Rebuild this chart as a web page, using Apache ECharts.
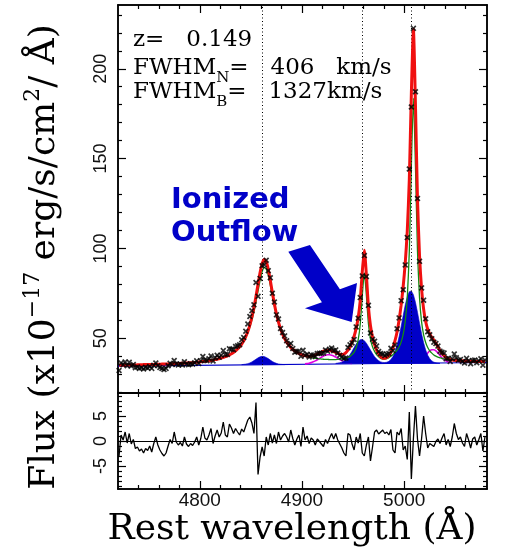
<!DOCTYPE html>
<html>
<head>
<meta charset="utf-8">
<script src="https://cdn.jsdelivr.net/npm/echarts@6/dist/echarts.min.js"></script>
<style>
html,body{margin:0;padding:0;background:#fff;}
#chart{width:505px;height:551px;}
</style>
</head>
<body>
<div id="chart"></div>
<script>
// Rest-frame wavelength sampling of the spectrum (Å)
const waveStart = 4721;
const waveStep = 2;

// Observed flux (x10^-17 erg/s/cm2/Å), one value per sample
const fluxObs = [
  32.0, 36.2, 35.2, 36.8, 34.7, 36.6, 34.5, 35.4, 33.6, 34.0,
  33.2, 33.6, 32.9, 33.8, 33.4, 34.3, 33.2, 34.9, 36.2, 34.7,
  33.7, 33.1, 32.6, 33.2, 34.7, 36.0, 35.3, 37.6, 35.7, 35.1,
  35.7, 35.1, 36.9, 35.6, 35.2, 35.8, 35.5, 36.3, 37.4, 35.9,
  37.4, 39.8, 37.7, 37.5, 38.6, 40.1, 37.3, 39.1, 40.5, 39.4,
  40.5, 43.1, 40.9, 41.0, 44.1, 43.9, 43.6, 45.4, 45.8, 46.4,
  49.1, 50.4, 53.9, 57.9, 62.1, 65.3, 68.6, 81.0, 73.3, 83.3,
  90.3, 90.8, 93.4, 87.6, 83.7, 75.0, 70.2, 63.0, 60.7, 55.4,
  53.2, 51.3, 48.6, 46.1, 47.1, 44.3, 42.2, 42.6, 42.7, 39.9,
  43.3, 40.5, 41.1, 39.5, 40.7, 40.5, 39.8, 41.5, 41.6, 41.6,
  41.7, 43.4, 42.8, 43.9, 44.5, 43.0, 43.5, 41.8, 40.5, 39.6,
  38.8, 39.0, 44.8, 46.4, 47.3, 49.3, 56.3, 61.1, 72.6, 84.7,
  96.0, 84.3, 68.3, 52.9, 49.4, 48.3, 45.6, 42.6, 41.5, 41.2,
  40.4, 41.1, 41.5, 44.4, 43.0, 46.2, 55.3, 61.3, 70.9, 77.0,
  90.8, 106.0, 144.2, 178.7, 222.5, 187.2, 127.8, 92.8, 78.0, 71.2,
  60.8, 53.6, 51.9, 49.7, 47.8, 47.0, 45.6, 42.8, 42.2, 41.8,
  38.5, 38.9, 37.1, 38.6, 41.2, 39.1, 37.8, 38.2, 37.0, 36.2,
  38.8, 37.4, 35.8, 37.6, 37.9, 36.3, 37.4, 38.6, 35.0, 37.8
];

// Total model (red)
const fitTotal = [
  35.0, 35.0, 35.0, 35.0, 35.1, 35.1, 35.1, 35.1, 35.1, 35.2,
  35.2, 35.2, 35.3, 35.3, 35.3, 35.3, 35.4, 35.4, 35.4, 35.5,
  35.5, 35.6, 35.6, 35.6, 35.7, 35.7, 35.8, 35.8, 35.9, 35.9,
  36.0, 36.1, 36.1, 36.2, 36.3, 36.3, 36.4, 36.5, 36.6, 36.7,
  36.9, 37.0, 37.1, 37.3, 37.4, 37.6, 37.8, 38.1, 38.3, 38.6,
  38.9, 39.3, 39.7, 40.2, 40.7, 41.3, 42.1, 42.9, 44.0, 45.2,
  46.7, 48.6, 50.9, 53.7, 57.3, 61.7, 67.1, 73.3, 80.0, 86.5,
  91.5, 93.8, 92.6, 88.4, 82.2, 75.4, 69.0, 63.5, 58.9, 55.2,
  52.2, 49.8, 47.8, 46.3, 44.9, 43.8, 43.0, 42.2, 41.5, 41.0,
  40.5, 40.3, 40.1, 40.0, 40.1, 40.3, 40.6, 41.1, 41.7, 42.2,
  42.8, 43.1, 43.3, 43.3, 43.0, 42.6, 42.0, 41.6, 41.1, 41.0,
  41.2, 42.0, 43.3, 45.2, 47.9, 51.1, 55.5, 61.5, 71.1, 87.1,
  99.0, 85.1, 67.5, 56.9, 50.6, 46.5, 43.4, 41.2, 39.7, 39.0,
  38.9, 39.3, 40.3, 42.1, 44.8, 48.6, 53.5, 60.1, 68.4, 78.8,
  91.8, 109.7, 138.4, 186.3, 222.0, 180.2, 127.4, 95.8, 77.5, 66.2,
  59.3, 55.0, 52.4, 50.5, 48.9, 47.1, 45.2, 43.3, 41.6, 40.3,
  39.3, 38.6, 38.2, 37.8, 37.7, 37.6, 37.5, 37.4, 37.4, 37.3,
  37.3, 37.2, 37.2, 37.2, 37.1, 37.1, 37.1, 37.1, 37.0, 37.0
];

// Continuum + narrow/Hβ components (green)
const fitNarrow = [
  35.0, 35.0, 35.0, 35.0, 35.1, 35.1, 35.1, 35.1, 35.1, 35.2,
  35.2, 35.2, 35.3, 35.3, 35.3, 35.3, 35.4, 35.4, 35.4, 35.5,
  35.5, 35.6, 35.6, 35.6, 35.7, 35.7, 35.8, 35.8, 35.9, 35.9,
  36.0, 36.1, 36.1, 36.2, 36.3, 36.3, 36.4, 36.5, 36.6, 36.7,
  36.9, 37.0, 37.1, 37.3, 37.4, 37.6, 37.8, 38.1, 38.3, 38.6,
  38.9, 39.3, 39.7, 40.2, 40.7, 41.3, 42.1, 42.9, 44.0, 45.2,
  46.7, 48.5, 50.6, 53.3, 56.3, 60.2, 64.8, 70.3, 76.2, 82.2,
  87.0, 89.3, 88.6, 85.1, 79.6, 73.6, 67.9, 62.8, 58.6, 55.0,
  52.1, 49.8, 47.8, 46.3, 44.9, 43.8, 43.0, 42.2, 41.5, 41.0,
  40.5, 40.1, 39.8, 39.5, 39.2, 39.0, 38.8, 38.6, 38.5, 38.4,
  38.3, 38.2, 38.2, 38.1, 38.1, 38.1, 38.1, 38.2, 38.3, 38.5,
  38.7, 38.9, 39.3, 39.9, 40.9, 42.3, 44.7, 49.2, 57.8, 73.7,
  86.4, 73.8, 58.1, 49.5, 45.2, 42.7, 40.9, 39.7, 38.8, 38.4,
  38.4, 38.6, 39.1, 39.9, 40.9, 42.1, 43.4, 45.1, 47.8, 52.1,
  59.3, 72.5, 98.4, 145.9, 183.7, 145.9, 98.3, 72.4, 59.1, 51.9,
  47.6, 44.8, 43.0, 41.7, 40.7, 40.0, 39.5, 39.1, 38.7, 38.5,
  38.3, 38.1, 37.9, 37.8, 37.7, 37.6, 37.5, 37.4, 37.4, 37.3,
  37.3, 37.2, 37.2, 37.2, 37.1, 37.1, 37.1, 37.1, 37.0, 37.0
];

// Data minus model (lower panel)
const residual = [
  -3.0, 1.2, 0.2, 1.8, -0.4, 1.5, -0.6, 0.3, -1.5, -1.2,
  -2.0, -1.6, -2.4, -1.5, -1.9, -1.0, -2.2, -0.5, 0.8, -0.8,
  -1.8, -2.5, -3.0, -2.4, -1.0, 0.3, -0.5, 1.8, -0.2, -0.8,
  -0.3, -1.0, 0.8, -0.6, -1.1, -0.5, -0.9, -0.2, 0.8, -0.8,
  0.5, 2.8, 0.6, 0.2, 1.2, 2.5, -0.5, 1.0, 2.2, 0.8,
  1.6, 3.8, 1.2, 0.8, 3.4, 2.6, 1.5, 2.5, 1.8, 1.2,
  2.4, 1.8, 3.0, 4.2, 4.8, 3.6, 1.5, 7.7, -6.7, -3.2,
  -1.2, -3.0, 0.8, -0.8, 1.5, -0.4, 1.2, -0.5, 1.8, 0.2,
  1.0, 1.5, 0.8, -0.2, 2.2, 0.5, -0.8, 0.4, 1.2, -1.1,
  2.8, 0.2, 1.0, -0.5, 0.6, 0.2, -0.8, 0.4, -0.1, -0.6,
  -1.1, 0.3, -0.5, 0.6, 1.5, 0.4, 1.5, 0.2, -0.6, -1.4,
  -2.4, -3.0, 1.5, 1.2, -0.6, -1.8, 0.8, -0.4, 1.5, -2.4,
  -3.0, -0.8, 0.8, -4.0, -1.2, 1.8, 2.2, 1.4, 1.8, 2.2,
  1.5, 1.8, 1.2, 2.3, -1.8, -2.4, 1.8, 1.2, 2.5, -1.8,
  -1.0, -3.7, 5.8, -7.6, 0.5, 7.0, 0.4, -3.0, 0.5, 5.0,
  1.5, -1.4, -0.5, -0.8, -1.1, -0.1, 0.4, -0.5, 0.6, 1.5,
  -0.8, 0.3, -1.1, 0.8, 3.5, 1.5, 0.3, 0.8, -0.4, -1.1,
  1.5, 0.2, -1.4, 0.4, 0.8, -0.8, 0.3, 1.5, -2.0, 0.8
];

// Broad (outflow) components, heights above the local continuum (blue)
const outflowHbStart = 4841;
const outflowHbBase = 35.3;
const outflowHb = [
  0, 0.14, 0.29, 0.55, 0.96, 1.52, 2.24, 3.03, 3.77, 4.33, 4.60,
  4.49, 4.03, 3.34, 2.54, 1.79, 1.16, 0.70, 0.38, 0.19, 0.09, 0
];
const outflowOIIIStart = 4933;
const outflowOIIIBase = 35.95;
const outflowOIII = [
  0, 0.19, 0.39, 0.73, 1.29, 2.15, 3.36, 4.94, 6.82, 8.84,
  10.76, 12.30, 13.23, 13.35, 12.66, 11.28, 9.43, 7.42, 5.48, 3.80,
  2.48, 1.52, 0.87, 0.59, 0.51, 0.69, 1.17, 2.21, 3.91, 6.50,
  10.17, 14.94, 20.61, 26.73, 32.52, 37.18, 39.97, 40.35, 38.27, 34.08,
  28.51, 22.44, 16.56, 11.49, 7.49, 4.58, 2.64, 1.43, 0.72, 0.34,
  0.15, 0
];

// Fe II emission on top of the continuum (magenta)
const feIIBlueStart = 4903;
const feIIBlue = [
  35.71, 35.86, 36.09, 36.41, 36.85, 37.39, 38.03, 38.73, 39.43, 40.07,
  40.54, 40.80, 40.81, 40.57, 40.12, 39.51, 38.83, 38.15, 37.53, 37.02,
  36.60, 36.30, 36.09, 35.96
];
const feIIRedStart = 5011;
const feIIRed = [
  36.35, 36.63, 37.13, 37.92, 39.02, 40.36, 41.75, 42.92, 43.60, 43.61,
  42.95, 41.80, 40.43, 39.12, 38.04, 37.28, 36.80, 36.54
];

// Power-law continuum end points
const continuumEnds = [[4720, 34.5], [5081, 36.49]];

// Hβ, [OIII]4959, [OIII]5007 rest wavelengths
const lineCentres = [4861, 4959, 5007];

// Axis ticks
const xMajor = [4800, 4900, 5000];
const xMinor = [4740, 4760, 4780, 4820, 4840, 4860, 4880, 4920, 4940, 4960, 4980, 5020, 5040, 5060];
const fluxMajor = [50, 100, 150, 200];
const fluxMinor = [20, 30, 40, 60, 70, 80, 90, 110, 120, 130, 140, 160, 170, 180, 190, 210, 220, 230];
const residMajor = [-5, 0, 5];
const residMinor = [-9, -8, -7, -6, -4, -3, -2, -1, 1, 2, 3, 4, 6, 7, 8, 9];

// Arrow outline in data units (wavelength, flux)
const arrowOutline = [[4886.6, 98.2], [4907.8, 101.9], [4937.1, 77.2], [4953.8, 80.7],
                      [4948.6, 59.0], [4902.9, 66.7], [4919.5, 70.0]];

const BLUE = '#0000c8';
const RED = '#f01010';
const GREEN = '#128a12';
const MAGENTA = '#e000e0';
const BLACK = '#000';
const SERIF = '"DejaVu Serif", serif';
const SANS = '"Liberation Sans", Arial, sans-serif';

const onGrid = (start, arr) => arr.map((v, i) => [start + i * waveStep, v]);

const outflowBands = [
  { start: outflowHbStart, base: outflowHbBase, amp: outflowHb },
  { start: outflowOIIIStart, base: outflowOIIIBase, amp: outflowOIII }
];

function xAxisDef(grid, pos, ticks, len, label) {
  return {
    type: 'value', gridIndex: grid, position: pos, min: 4720, max: 5081,
    axisLine: { show: true, onZero: false, lineStyle: { color: BLACK, width: 1.5 } },
    axisTick: { show: true, inside: true, length: len, customValues: ticks, lineStyle: { color: BLACK, width: 1.2 } },
    axisLabel: label ? Object.assign({ show: true, customValues: ticks }, label) : { show: false },
    splitLine: { show: false }
  };
}
function yAxisDef(grid, pos, min, max, ticks, len, label) {
  return {
    type: 'value', gridIndex: grid, position: pos, min: min, max: max,
    axisLine: { show: true, onZero: false, lineStyle: { color: BLACK, width: 1.5 } },
    axisTick: { show: true, inside: true, length: len, customValues: ticks, lineStyle: { color: BLACK, width: 1.2 } },
    axisLabel: label ? Object.assign({ show: true, customValues: ticks }, label) : { show: false },
    splitLine: { show: false }
  };
}

const plain = v => String(v);
const xLabel = { fontSize: 19, fontFamily: SANS, color: '#111', margin: 2, formatter: plain };
const yLabel = { fontSize: 18, fontFamily: SANS, color: '#111', margin: 8, rotate: 90, formatter: plain };

const chart = echarts.init(document.getElementById('chart'), null, { renderer: 'canvas' });

chart.setOption({
  animation: false,
  backgroundColor: '#fff',
  grid: [
    { left: 118, top: 5, width: 369, height: 388 },
    { left: 118, top: 393, width: 369, height: 96 }
  ],
  xAxis: [
    xAxisDef(0, 'bottom', xMajor, 8),
    xAxisDef(0, 'bottom', xMinor, 4),
    xAxisDef(0, 'top', xMajor, 8),
    xAxisDef(0, 'top', xMinor, 4),
    xAxisDef(1, 'bottom', xMajor, 8, xLabel),
    xAxisDef(1, 'bottom', xMinor, 4),
    xAxisDef(1, 'top', xMajor, 8),
    xAxisDef(1, 'top', xMinor, 4)
  ],
  yAxis: [
    yAxisDef(0, 'left', 19.5, 235.5, fluxMajor, 8, yLabel),
    yAxisDef(0, 'left', 19.5, 235.5, fluxMinor, 4),
    yAxisDef(0, 'right', 19.5, 235.5, fluxMajor, 8),
    yAxisDef(0, 'right', 19.5, 235.5, fluxMinor, 4),
    yAxisDef(1, 'left', -9.6, 9.6, residMajor, 8, yLabel),
    yAxisDef(1, 'left', -9.6, 9.6, residMinor, 4),
    yAxisDef(1, 'right', -9.6, 9.6, residMajor, 8),
    yAxisDef(1, 'right', -9.6, 9.6, residMinor, 4)
  ],
  series: [
    // continuum level under the broad components
    { type: 'line', xAxisIndex: 0, yAxisIndex: 0, data: continuumEnds, symbol: 'none', silent: true,
      lineStyle: { color: BLUE, width: 1.2 }, z: 2 },
    // broad outflow components, filled from the continuum up
    { type: 'custom', xAxisIndex: 0, yAxisIndex: 0, silent: true, z: 3,
      data: outflowBands.map(b => [b.start, b.base]),
      renderItem: (params, api) => {
        const b = outflowBands[params.dataIndex];
        const pts = b.amp.map((a, i) => api.coord([b.start + i * waveStep, b.base + a]));
        const end = b.start + (b.amp.length - 1) * waveStep;
        pts.push(api.coord([end, b.base]), api.coord([b.start, b.base]));
        return { type: 'polygon', shape: { points: pts }, style: { fill: BLUE, stroke: BLUE, lineWidth: 0.6 } };
      } },
    { type: 'line', xAxisIndex: 0, yAxisIndex: 0, data: onGrid(feIIBlueStart, feIIBlue), symbol: 'none', silent: true,
      smooth: 0.2, lineStyle: { color: MAGENTA, width: 1.6 }, z: 2 },
    { type: 'line', xAxisIndex: 0, yAxisIndex: 0, data: onGrid(feIIRedStart, feIIRed), symbol: 'none', silent: true,
      smooth: 0.2, lineStyle: { color: MAGENTA, width: 1.6 }, z: 2 },
    { type: 'line', xAxisIndex: 0, yAxisIndex: 0, data: onGrid(waveStart, fitNarrow), symbol: 'none', silent: true,
      smooth: 0.2, lineStyle: { color: GREEN, width: 1.3 }, z: 4,
      markLine: {
        silent: true, symbol: 'none', label: { show: false },
        lineStyle: { type: [1, 2.5], color: BLACK, width: 1 },
        data: lineCentres.map(v => ({ xAxis: v }))
      } },
    { type: 'line', xAxisIndex: 0, yAxisIndex: 0, data: onGrid(waveStart, fitTotal), symbol: 'none', silent: true,
      smooth: 0.2, lineStyle: { color: RED, width: 3 }, z: 5 },
    { type: 'scatter', xAxisIndex: 0, yAxisIndex: 0, data: onGrid(waveStart, fluxObs), silent: true,
      symbol: 'path://M0,2L2,0L5,3L8,0L10,2L7,5L10,8L8,10L5,7L2,10L0,8L3,5Z',
      symbolSize: 6, itemStyle: { color: BLACK }, z: 6 },
    { type: 'line', xAxisIndex: 4, yAxisIndex: 4, data: onGrid(waveStart, residual), symbol: 'none', silent: true,
      lineStyle: { color: BLACK, width: 1.3 }, z: 4,
      markLine: {
        silent: true, symbol: 'none', label: { show: false },
        lineStyle: { type: 'solid', color: BLACK, width: 1 },
        data: [{ yAxis: 0 }]
      } }
  ]
});

const arrowPx = arrowOutline.map(p => chart.convertToPixel({ xAxisIndex: 0, yAxisIndex: 0 }, p));

const annot = { font: '23px ' + SERIF, lineHeight: 36, verticalAlign: 'middle', fill: BLACK };
const sub = { font: '15px ' + SERIF, lineHeight: 36, verticalAlign: 'bottom', fill: BLACK };
const title = { font: '36px ' + SERIF, lineHeight: 46, verticalAlign: 'middle', fill: BLACK };
const sup = { font: '22px ' + SERIF, lineHeight: 46, verticalAlign: 'top', fill: BLACK };

chart.setOption({
  graphic: [
    { type: 'text', x: 133, y: 40, z: 100, silent: true,
      style: { text: 'z=   0.149', font: '23px ' + SERIF, fill: BLACK, align: 'left', verticalAlign: 'middle' } },
    { type: 'text', x: 133, y: 68, z: 100, silent: true,
      style: { text: '{m|FWHM}{s|N}{m|=   406   km/s}', rich: { m: annot, s: sub }, align: 'left', verticalAlign: 'middle' } },
    { type: 'text', x: 133, y: 92, z: 100, silent: true,
      style: { text: '{m|FWHM}{s|B}{m|=   1327km/s}', rich: { m: annot, s: sub }, align: 'left', verticalAlign: 'middle' } },
    { type: 'text', x: 171, y: 200, z: 100, silent: true,
      style: { text: 'Ionized', font: 'bold 29px "DejaVu Sans", sans-serif', fill: BLUE, align: 'left', verticalAlign: 'middle' } },
    { type: 'text', x: 171, y: 233, z: 100, silent: true,
      style: { text: 'Outflow', font: 'bold 29px "DejaVu Sans", sans-serif', fill: BLUE, align: 'left', verticalAlign: 'middle' } },
    { type: 'polygon', z: 100, silent: true, shape: { points: arrowPx }, style: { fill: BLUE } },
    { type: 'text', x: 292, y: 530, z: 100, silent: true,
      style: { text: 'Rest wavelength (Å)', font: '36px ' + SERIF, fill: BLACK, align: 'center', verticalAlign: 'middle' } },
    { type: 'text', x: 45, y: 257, rotation: Math.PI / 2, z: 100, silent: true,
      style: { text: '{m|Flux (x10}{s|−17}{m| erg/s/cm}{s|2}{m|/ Å)}', rich: { m: title, s: sup },
               align: 'center', verticalAlign: 'middle' } }
  ]
});
</script>
</body>
</html>
